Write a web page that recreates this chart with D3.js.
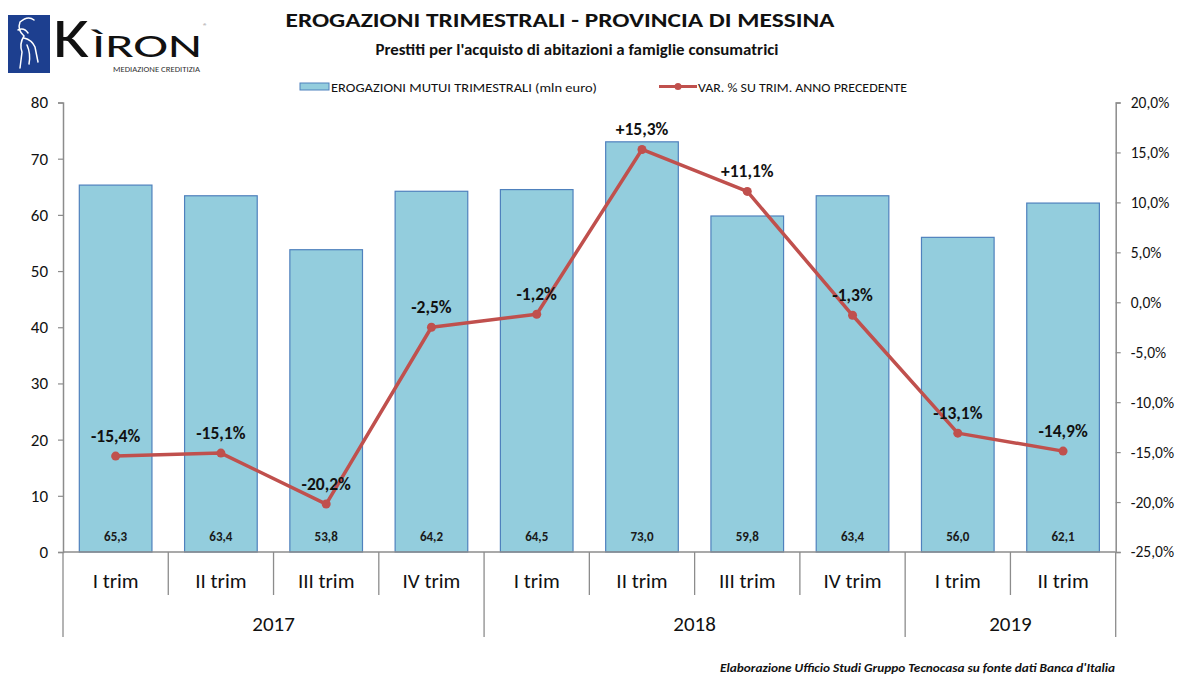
<!DOCTYPE html>
<html>
<head>
<meta charset="utf-8">
<script src="https://cdn.jsdelivr.net/npm/d3@7"></script>
<style>
  body { margin: 0; background: #fff; }
  svg text { font-family: Carlito, "Liberation Sans Narrow", "Liberation Sans", Arial, sans-serif; }
</style>
</head>
<body>
<div id="chart"></div>
<script>
// data
var quarters = ["I trim", "II trim", "III trim", "IV trim", "I trim", "II trim", "III trim", "IV trim", "I trim", "II trim"];
var years = ["2017", "2017", "2017", "2017", "2018", "2018", "2018", "2018", "2019", "2019"];
var erogazioni = [65.3, 63.4, 53.8, 64.2, 64.5, 73.0, 59.8, 63.4, 56.0, 62.1];
var variazione = [-15.4, -15.1, -20.2, -2.5, -1.2, 15.3, 11.1, -1.3, -13.1, -14.9];
var leftTicks = [0, 10, 20, 30, 40, 50, 60, 70, 80];
var rightTicks = [-25, -20, -15, -10, -5, 0, 5, 10, 15, 20];

var W = 1200, H = 682;
var plot = {left: 63, right: 1115.7, top: 102.5, bottom: 552};

var svg = d3.select("#chart")
  .append("svg")
    .attr("width", W)
    .attr("height", H);

var fmt = function(v, d) { return v.toFixed(d).replace(".", ","); };

var idx = d3.range(quarters.length);
var x = d3.scaleBand().domain(idx).range([plot.left, plot.right]).paddingInner(0.31).paddingOuter(0.155);
var xc = function(i) { return x(i) + x.bandwidth() / 2; };
var step = (plot.right - plot.left) / quarters.length;
var yL = d3.scaleLinear().domain([0, 80]).range([plot.bottom, plot.top]);
var yR = d3.scaleLinear().domain([-25, 20]).range([plot.bottom, plot.top]);

// ---- logo ----
var logo = svg.append("g").style("font-family", "'Liberation Sans', Arial, sans-serif");
logo.append("rect").attr("x", 8).attr("y", 15).attr("width", 42).attr("height", 58).attr("fill", "#1d3f8f");
logo.append("path")
  .attr("d", "M20 22 Q28 15 34 20 M20 22 Q17 30 24 36 Q19 44 22 52 L20 68 M24 38 Q32 40 35 47 L38 62 M27 45 Q31 54 29 64 M18 30 Q24 27 28 33")
  .attr("fill", "none").attr("stroke", "#fff").attr("stroke-width", 1.5).attr("stroke-linecap", "round");
logo.append("text").attr("x", 53).attr("y", 57).attr("font-size", 55).attr("fill", "#111")
  .attr("textLength", 36).attr("lengthAdjust", "spacingAndGlyphs").text("K");
logo.append("text").attr("x", 92).attr("y", 57).attr("font-size", 33).attr("fill", "#111")
  .attr("textLength", 110).attr("lengthAdjust", "spacingAndGlyphs").text("ÌRON");
logo.append("text").attr("x", 203).attr("y", 29).attr("font-size", 9).attr("fill", "#888").text("®");
logo.append("text").attr("x", 113).attr("y", 72).attr("font-size", 7.5).attr("fill", "#333")
  .attr("textLength", 87).attr("lengthAdjust", "spacingAndGlyphs").text("MEDIAZIONE CREDITIZIA");

// ---- titles ----
svg.append("text").attr("x", 560).attr("y", 27).attr("text-anchor", "middle")
  .attr("font-size", 21).attr("font-weight", "bold").attr("fill", "#111")
  .attr("textLength", 549).attr("lengthAdjust", "spacingAndGlyphs")
  .text("EROGAZIONI TRIMESTRALI - PROVINCIA DI MESSINA");
svg.append("text").attr("x", 577).attr("y", 55).attr("text-anchor", "middle")
  .attr("font-size", 15).attr("font-weight", "bold").attr("fill", "#111")
  .attr("textLength", 403).attr("lengthAdjust", "spacingAndGlyphs")
  .text("Prestiti per l'acquisto di abitazioni a famiglie consumatrici");

// ---- legend ----
var lg = svg.append("g");
lg.append("rect").attr("x", 300).attr("y", 83).attr("width", 29).attr("height", 7)
  .attr("fill", "#93cddd").attr("stroke", "#4f81bd").attr("stroke-width", 1);
lg.append("text").attr("x", 331).attr("y", 91.5).attr("font-size", 13).attr("fill", "#111")
  .attr("textLength", 266).attr("lengthAdjust", "spacingAndGlyphs")
  .text("EROGAZIONI MUTUI TRIMESTRALI (mln euro)");
lg.append("line").attr("x1", 659).attr("x2", 697).attr("y1", 86.5).attr("y2", 86.5)
  .attr("stroke", "#c0504d").attr("stroke-width", 3);
lg.append("circle").attr("cx", 678).attr("cy", 86.5).attr("r", 3.5).attr("fill", "#c0504d");
lg.append("text").attr("x", 698).attr("y", 91.5).attr("font-size", 13).attr("fill", "#111")
  .attr("textLength", 209).attr("lengthAdjust", "spacingAndGlyphs")
  .text("VAR. % SU TRIM. ANNO PRECEDENTE");

// ---- bars ----
svg.append("g").selectAll("rect")
  .data(erogazioni)
  .enter()
  .append("rect")
    .attr("x", function(d, i) { return x(i); })
    .attr("y", function(d) { return yL(d); })
    .attr("width", x.bandwidth())
    .attr("height", function(d) { return yL(0) - yL(d); })
    .attr("fill", "#93cddd")
    .attr("stroke", "#4f81bd")
    .attr("stroke-width", 1.2);

svg.append("g").selectAll("text")
  .data(erogazioni)
  .enter()
  .append("text")
    .attr("x", function(d, i) { return xc(i); })
    .attr("y", plot.bottom - 11)
    .attr("text-anchor", "middle")
    .attr("font-size", 13)
    .attr("font-weight", "bold")
    .attr("fill", "#1a1a1a")
    .text(function(d) { return fmt(d, 1); });

// ---- axes ----
var axisColor = "#8c8c8c";
var gL = svg.append("g").attr("transform", "translate(" + plot.left + ",0)")
  .call(d3.axisLeft(yL).tickValues(leftTicks).tickSize(5).tickPadding(10));
var gR = svg.append("g").attr("transform", "translate(" + plot.right + ",0)")
  .call(d3.axisRight(yR).tickValues(rightTicks).tickSize(5).tickPadding(10)
    .tickFormat(function(d) { return fmt(d, 1) + "%"; }));
[gL, gR].forEach(function(g) {
  g.select(".domain").attr("stroke", axisColor).attr("stroke-width", 1.5);
  g.selectAll(".tick line").attr("stroke", axisColor).attr("stroke-width", 1.2);
  g.selectAll(".tick text").attr("fill", "#111").style("font-family", "Carlito, 'Liberation Sans', Arial, sans-serif");
});
gL.selectAll(".tick text").attr("font-size", 17);
gR.selectAll(".tick text").attr("font-size", 15.5);

// category axis with two levels
var gx = svg.append("g");
gx.append("line").attr("x1", plot.left).attr("x2", plot.right).attr("y1", plot.bottom).attr("y2", plot.bottom)
  .attr("stroke", axisColor).attr("stroke-width", 1.5);
var bounds = d3.range(quarters.length + 1);
gx.selectAll("line.sep")
  .data(bounds)
  .enter()
  .append("line")
    .attr("class", "sep")
    .attr("x1", function(b) { return plot.left + b * step; })
    .attr("x2", function(b) { return plot.left + b * step; })
    .attr("y1", plot.bottom)
    .attr("y2", function(b) {
      var yearEdge = b === 0 || b === quarters.length || years[b] !== years[b - 1];
      return yearEdge ? 637 : 595;
    })
    .attr("stroke", axisColor)
    .attr("stroke-width", 1.3);

gx.selectAll("text.q")
  .data(quarters)
  .enter()
  .append("text")
    .attr("class", "q")
    .attr("x", function(d, i) { return xc(i); })
    .attr("y", 588)
    .attr("text-anchor", "middle")
    .attr("font-size", 21)
    .attr("fill", "#111")
    .text(function(d) { return d; });

var yearGroups = d3.groups(idx, function(i) { return years[i]; });
gx.selectAll("text.yr")
  .data(yearGroups)
  .enter()
  .append("text")
    .attr("class", "yr")
    .attr("x", function(g) { return (xc(g[1][0]) + xc(g[1][g[1].length - 1])) / 2; })
    .attr("y", 631)
    .attr("text-anchor", "middle")
    .attr("font-size", 21)
    .attr("fill", "#111")
    .text(function(g) { return g[0]; });

// ---- line ----
var line = d3.line()
  .x(function(d, i) { return xc(i); })
  .y(function(d) { return yR(d); });

svg.append("path")
  .datum(variazione)
  .attr("d", line)
  .attr("fill", "none")
  .attr("stroke", "#c0504d")
  .attr("stroke-width", 3.5)
  .attr("stroke-linejoin", "round");

svg.append("g").selectAll("circle")
  .data(variazione)
  .enter()
  .append("circle")
    .attr("cx", function(d, i) { return xc(i); })
    .attr("cy", function(d) { return yR(d); })
    .attr("r", 4.5)
    .attr("fill", "#c0504d");

svg.append("g").selectAll("text")
  .data(variazione)
  .enter()
  .append("text")
    .attr("x", function(d, i) { return xc(i); })
    .attr("y", function(d) { return yR(d) - 14; })
    .attr("text-anchor", "middle")
    .attr("font-size", 17.5)
    .attr("font-weight", "bold")
    .attr("fill", "#111")
    .text(function(d) { return (d > 0 ? "+" : "") + fmt(d, 1) + "%"; });

// ---- footer ----
svg.append("text").attr("x", 1115).attr("y", 672).attr("text-anchor", "end")
  .attr("font-size", 12.5).attr("font-weight", "bold").attr("font-style", "italic").attr("fill", "#111")
  .attr("textLength", 395).attr("lengthAdjust", "spacingAndGlyphs")
  .text("Elaborazione  Ufficio Studi Gruppo Tecnocasa su fonte dati Banca d'Italia");
</script>
</body>
</html>
